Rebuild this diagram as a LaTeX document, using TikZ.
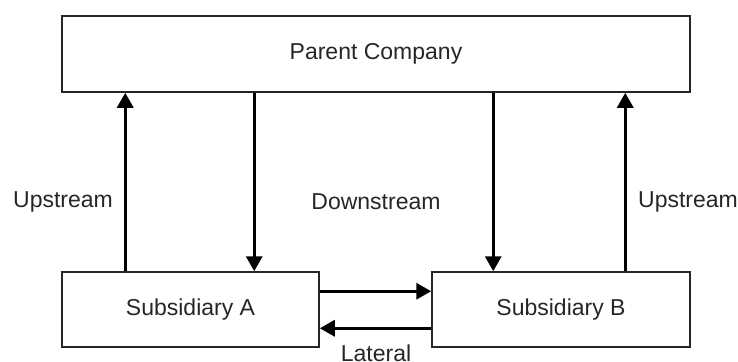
\documentclass[tikz,border=0pt]{standalone}
\usepackage{fontspec}
\setmainfont{Liberation Sans}
\usetikzlibrary{arrows.meta}
\begin{document}
\begin{tikzpicture}[x=1pt,y=-1pt,
  box/.style={draw=black!85,line width=1.5pt,inner sep=0pt,font=\fontsize{23}{27}\selectfont,text=black!85},
  flow/.style={line width=3.2pt,-{Triangle[length=15pt,width=16pt]}},
  lbl/.style={font=\fontsize{23}{27}\selectfont,text=black!85,inner sep=0pt}]
\useasboundingbox (0,0) rectangle (738,361);
% the three company boxes
\node[box,minimum width=628pt,minimum height=76pt] (parent) at (376,54) {Parent Company};
\node[box,minimum width=257pt,minimum height=75pt] (subA) at (190.5,309.5) {Subsidiary A};
\node[box,minimum width=258pt,minimum height=75pt] (subB) at (561,309.5) {Subsidiary B};
% vertical flows
\draw[flow] (subA.south west |- subA.north) ++(64,0) coordinate (a1) -- (a1 |- parent.south);
\draw[flow] (parent.south west) ++(193,0) coordinate (p1) -- (p1 |- subA.north);
\draw[flow] (parent.south west) ++(432,0) coordinate (p2) -- (p2 |- subB.north);
\draw[flow] (subB.north west) ++(194,0) coordinate (b1) -- (b1 |- parent.south);
% lateral flows
\draw[flow] (subA.north east) ++(0,20) coordinate (l1) -- (l1 -| subB.west);
\draw[flow] (subB.north west) ++(0,57) coordinate (l2) -- (l2 -| subA.east);
% labels
\node[lbl] (up1) at (63,202) {Upstream};
\node[lbl] (down) at (376,202) {Downstream};
\node[lbl] (up2) at (688,202) {Upstream};
\node[lbl] (lat) at (376,353) {Lateral};
\end{tikzpicture}
\end{document}
